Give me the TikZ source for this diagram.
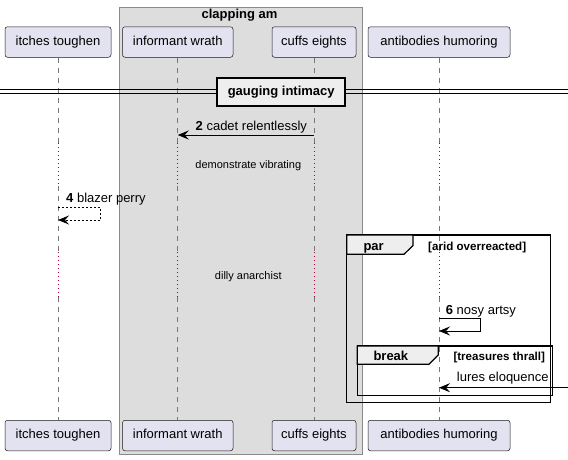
\documentclass[tikz,border=0pt]{standalone}
\usepackage{fontspec}
\setmainfont{Liberation Sans}
\usetikzlibrary{arrows.meta,calc}
\definecolor{partfill}{HTML}{E2E2F0}
\definecolor{partdraw}{HTML}{181818}
\definecolor{grpfill}{HTML}{DDDDDD}
\definecolor{grpdraw}{HTML}{8A8A8A}
\definecolor{tabfill}{HTML}{EEEEEE}
\definecolor{delaydot}{HTML}{A80036}
\definecolor{lifecol}{HTML}{777777}
\begin{document}
\begin{tikzpicture}[x=1pt,y=-1pt,
  f13/.style={font=\fontsize{13}{15}\selectfont},
  f11/.style={font=\fontsize{11}{13}\selectfont},
  part/.style={f13, draw=partdraw, fill=partfill, line width=0.5pt, rounded corners=2.5pt, inner sep=0pt, minimum height=30.5pt, text height=9.5pt, text depth=2.7pt},
  grp/.style={draw=grpdraw, fill=grpfill, line width=0.8pt, inner sep=0pt, anchor=north west},
  life/.style={draw=lifecol, line width=0.6pt, dash pattern=on 5pt off 5pt},
  delay/.style={draw=delaydot, line width=0.9pt, dash pattern=on 1pt off 3pt},
  msg/.style={draw=black, line width=0.8pt, -{Stealth[length=11pt,width=9pt,inset=4pt]}},
  dmsg/.style={msg, dash pattern=on 2pt off 2pt},
  lbl/.style={f13, inner sep=0pt, anchor=base west},
  dlbl/.style={f11, inner sep=0pt, anchor=base},
  frm/.style={draw=black, line width=1.5pt},
  tab/.style={draw=black, fill=tabfill, line width=1.2pt},
  guard/.style={font=\fontsize{11.6}{13}\selectfont\bfseries, inner sep=0pt, anchor=base west}
]
\useasboundingbox (0,0) rectangle (568,459);
\fill[white] (0,0) rectangle (568,459);

% group box
\node[grp, minimum width=242.5pt, minimum height=447.5pt] (grp) at (119,6.5) {};
\node[inner sep=0pt, anchor=base, font=\fontsize{13}{15}\selectfont\bfseries] (grpt) at (239.5,18.3) {clapping am};

% participants
\node[part, minimum width=106pt]   (ittop) at (58,42) {itches toughen};
\node[part, minimum width=110.5pt] (iwtop) at (177.75,42) {informant wrath};
\node[part, minimum width=84pt]    (cetop) at (314,42) {cuffs eights};
\node[part, minimum width=142pt]   (ahtop) at (439,42) {antibodies humoring};
\node[part, minimum width=106pt]   (itbot) at (58,435.5) {itches toughen};
\node[part, minimum width=110.5pt] (iwbot) at (177.75,435.5) {informant wrath};
\node[part, minimum width=84pt]    (cebot) at (314,435.5) {cuffs eights};
\node[part, minimum width=142pt]   (ahbot) at (439,435.5) {antibodies humoring};

% lifelines with delay segments
\coordinate (da) at (0,143);
\coordinate (db) at (0,186);
\coordinate (dc) at (0,252);
\coordinate (dd) at (0,297);
\foreach \p in {it,iw,ce,ah}{
  \draw[life] (\p top.south) -- (\p top.south |- da);
  \draw[delay] (\p top.south |- da) -- (\p top.south |- db);
  \draw[life] (\p top.south |- db) -- (\p top.south |- dc);
  \draw[delay] (\p top.south |- dc) -- (\p top.south |- dd);
  \draw[life] (\p top.south |- dd) -- (\p bot.north);
}

% divider
\coordinate (dvL) at (0,91.5);
\coordinate (dvR) at (568,91.5);
\draw[black, line width=0.9pt] ($(dvL)+(0,-2)$) -- ($(dvR)+(0,-2)$);
\draw[black, line width=0.9pt] ($(dvL)+(0,2)$) -- ($(dvR)+(0,2)$);
\node[draw=black, fill=tabfill, line width=2pt, inner sep=0pt, minimum width=128pt, minimum height=27.5pt,
      font=\fontsize{13}{15}\selectfont\bfseries] (div) at (281.2,91.8) {gauging intimacy};

% message 2
\coordinate (y2) at (0,135);
\draw[msg] (cetop.south |- y2) -- (iwtop.south |- y2);
\node[lbl] (l2) at (195.5,130.5) {\textbf{2} cadet relentlessly};

% delay 1
\node[dlbl] (dl1) at (248.3,168.3) {demonstrate vibrating};

% message 4 (self, dashed)
\coordinate (y4a) at (0,207.3);
\coordinate (y4b) at (0,220);
\coordinate (x4) at (100.7,0);
\draw[dmsg] (ittop.south |- y4a) -- (x4 |- y4a) -- (x4 |- y4b) -- (ittop.south |- y4b);
\node[lbl] (l4) at (66,202.7) {\textbf{4} blazer perry};

% delay 2
\node[dlbl] (dl2) at (248.3,279.3) {dilly anarchist};

% par frame
\coordinate (parNW) at (346.7,235);
\coordinate (parSE) at (550.7,402.3);
\draw[frm] (parNW) rectangle (parSE);
\draw[tab] (346.7,235) -- (413,235) -- (413,245.5) -- (404,254.3) -- (346.7,254.3) -- cycle;
\node[inner sep=0pt, anchor=base west, font=\fontsize{13}{15}\selectfont\bfseries] (parl) at (363.3,250) {par};
\node[guard] (parg) at (428,250) {[arid overreacted]};

% message 6 (self)
\coordinate (y6a) at (0,318.3);
\coordinate (y6b) at (0,331);
\coordinate (x6) at (480.7,0);
\draw[msg] (ahtop.south |- y6a) -- (x6 |- y6a) -- (x6 |- y6b) -- (ahtop.south |- y6b);
\node[lbl] (l6) at (445.7,314.3) {\textbf{6} nosy artsy};

% break frame
\draw[frm] (357.3,346) rectangle (552.7,395.7);
\draw[tab] (357.3,346) -- (438.3,346) -- (438.3,355) -- (429,364.3) -- (357.3,364.3) -- cycle;
\node[inner sep=0pt, anchor=base west, font=\fontsize{13}{15}\selectfont\bfseries] (brkl) at (373.3,360) {break};
\node[guard] (brkg) at (453.3,360) {[treasures thrall]};

% lures eloquence (from right boundary)
\coordinate (rin) at (568,387.7);
\draw[msg] (rin) -- (ahtop.south |- rin);
\node[lbl] (l7) at (456.7,381.7) {lures eloquence};

\end{tikzpicture}
\end{document}
